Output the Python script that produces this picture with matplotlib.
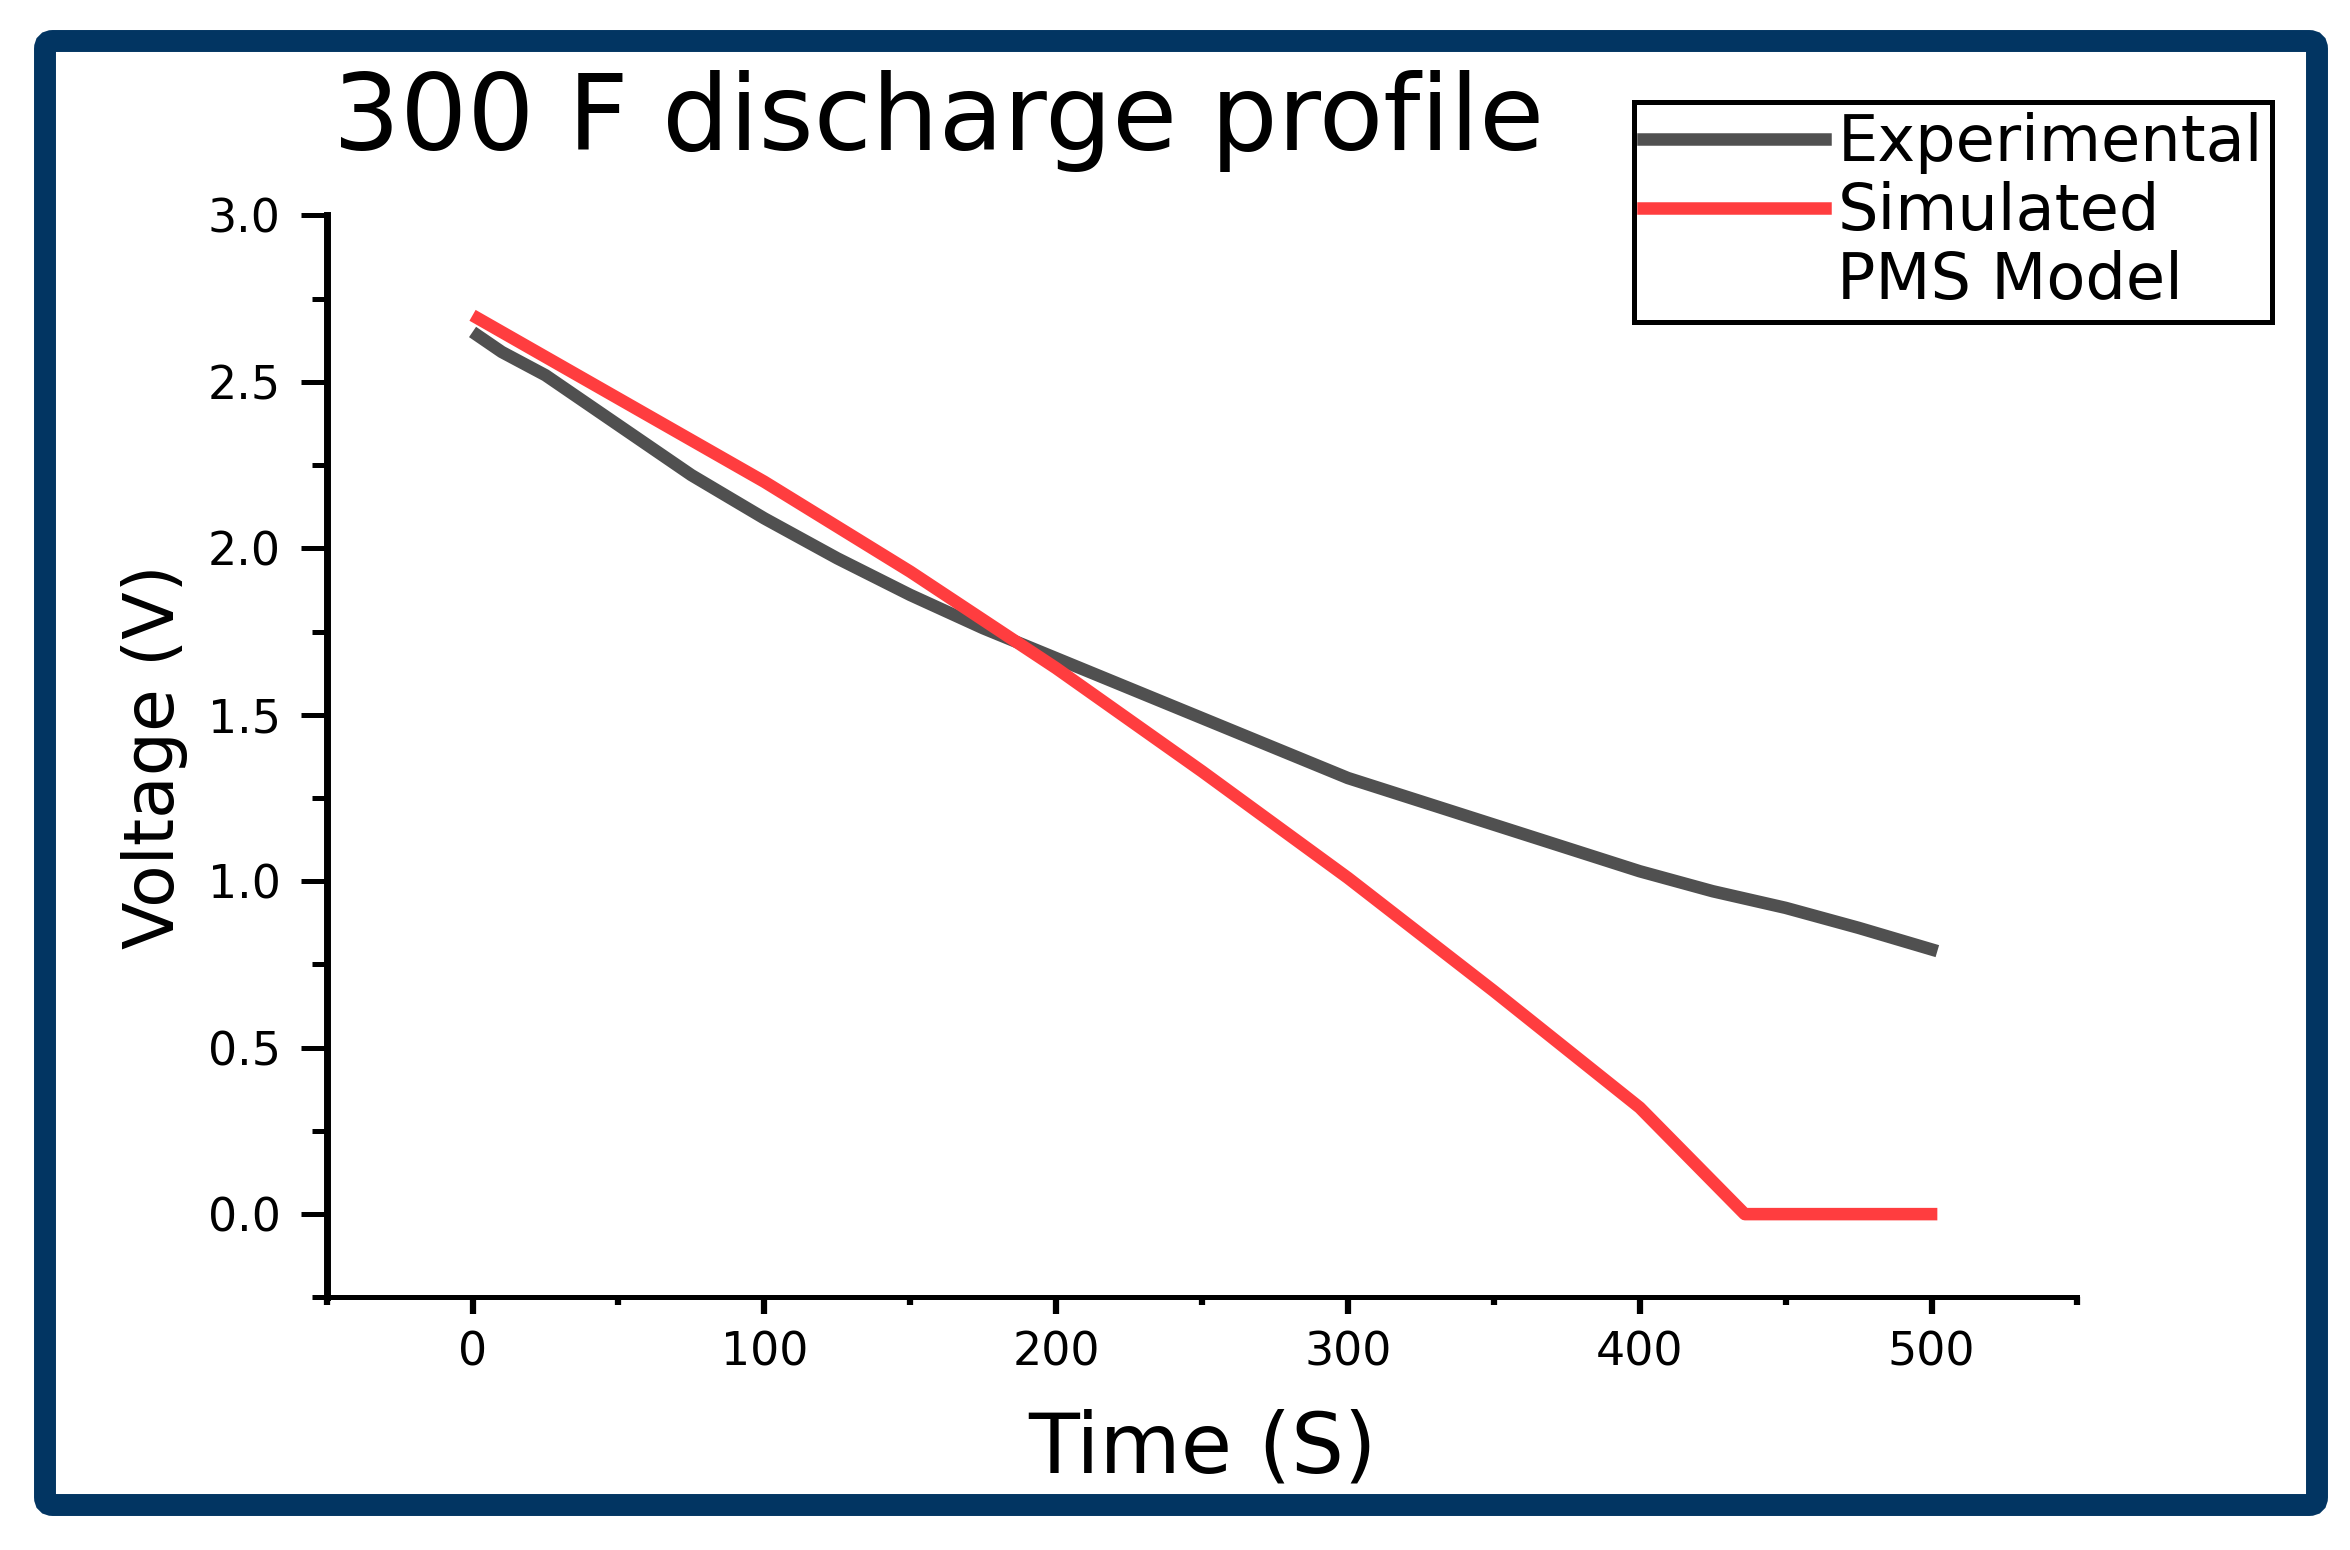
"""300 F supercapacitor discharge: experimental trace vs simulated PMS model."""

import matplotlib

matplotlib.use("Agg")
import matplotlib.pyplot as plt  # noqa: E402
from matplotlib.lines import Line2D  # noqa: E402
from matplotlib.patches import FancyBboxPatch  # noqa: E402
from matplotlib.ticker import MultipleLocator  # noqa: E402
from matplotlib.transforms import IdentityTransform  # noqa: E402

# values
exp_time = [0, 10, 25, 50, 75, 100, 125, 150, 175, 200, 225, 250, 275,
            300, 325, 350, 375, 400, 425, 450, 475, 502]
exp_volt = [2.65, 2.59, 2.52, 2.37, 2.22, 2.09, 1.97, 1.86, 1.76, 1.67, 1.58,
            1.49, 1.40, 1.31, 1.24, 1.17, 1.10, 1.03, 0.97, 0.92, 0.86, 0.79]

sim_time = [0, 50, 100, 150, 200, 250, 300, 350, 400, 436, 502]
sim_volt = [2.70, 2.45, 2.20, 1.93, 1.64, 1.33, 1.01, 0.67, 0.32, 0.0, 0.0]

labels = ["Experimental", "Simulated", "PMS Model"]
x_ticks = [0, 100, 200, 300, 400, 500]
y_ticks = [0.0, 0.5, 1.0, 1.5, 2.0, 2.5, 3.0]

GRAY = "#505050"
RED = "#FF3D3F"
NAVY = "#023562"
LW = 9

plt.rcParams["font.family"] = ["DejaVu Sans"]

fig = plt.figure(figsize=(23.5, 15.5), dpi=100)
ax = fig.add_axes([0.139, 0.163, 0.745, 0.698])

ax.plot(exp_time, exp_volt, color=GRAY, lw=LW, solid_capstyle="butt",
        solid_joinstyle="round")
ax.plot(sim_time, sim_volt, color=RED, lw=LW, solid_capstyle="butt",
        solid_joinstyle="round")

ax.set_xlim(-50, 550)
ax.set_ylim(-0.25, 3.0)
ax.set_xticks(x_ticks)
ax.set_yticks(y_ticks)
ax.set_yticklabels([f"{v:.1f}" for v in y_ticks])
ax.xaxis.set_minor_locator(MultipleLocator(50))
ax.yaxis.set_minor_locator(MultipleLocator(0.25))

for side in ("top", "right"):
    ax.spines[side].set_visible(False)
ax.spines["left"].set_linewidth(5)
ax.spines["bottom"].set_linewidth(3.6)

ax.tick_params(axis="y", which="major", direction="out", length=19, width=3.6,
               pad=14, labelsize=33)
ax.tick_params(axis="y", which="minor", direction="out", length=11, width=3.6)
ax.tick_params(axis="x", which="major", direction="out", length=12, width=4.5,
               pad=12, labelsize=33)
ax.tick_params(axis="x", which="minor", direction="out", length=6, width=4.5)

ax.set_xlabel("Time (S)", fontsize=60)
ax.xaxis.set_label_coords(0.5, -0.103)
ax.set_ylabel("Voltage (V)", fontsize=50)
ax.yaxis.set_label_coords(-0.079, 0.5)

fig.text(0.1417, 0.903, "300 F discharge profile", fontsize=76,
         ha="left", va="baseline")

handles = [Line2D([], [], color=GRAY, lw=LW),
           Line2D([], [], color=RED, lw=LW),
           Line2D([], [], color="none", lw=0)]
leg = fig.legend(handles, labels, loc="upper right",
                 bbox_to_anchor=(0.967, 0.934), borderaxespad=0,
                 fontsize=46, handlelength=2.85, handletextpad=0.19,
                 borderpad=0.15, labelspacing=0.11, fancybox=False,
                 framealpha=1, edgecolor="black")
leg.get_frame().set_linewidth(3.6)

# dark navy rounded border around the whole picture (pixel coordinates)
border = FancyBboxPatch((45, 45), 2317 - 45, 1509 - 45,
                        boxstyle="round,pad=0,rounding_size=8",
                        transform=IdentityTransform(), fill=False,
                        edgecolor=NAVY, linewidth=15.8)
fig.patches.append(border)

fig.savefig("out.png", dpi=100)
